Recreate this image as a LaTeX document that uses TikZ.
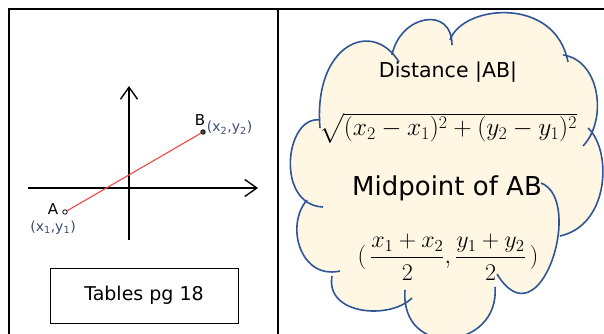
\RequirePackage{fix-cm}
\documentclass[tikz,border=0pt]{standalone}
\usepackage{amsmath}
\usepackage{fontspec}
\setmainfont{DejaVu Sans}
\usepackage{tikz}
\usetikzlibrary{arrows.meta,positioning}

\definecolor{cloudblue}{HTML}{2F5597}
\definecolor{cloudcream}{HTML}{FFF6E3}
\definecolor{coordgray}{HTML}{404C72}
\definecolor{segred}{HTML}{F04646}

% puffs of the cloud: start / control / control / end
\newcommand{\cloudpuffs}{%
  {320,128}/{313,45}/{372,18}/{399,62},
  {392,55}/{400,15}/{452,5}/{452,45},
  {450,40}/{462,5}/{555,-5}/{568,62},
  {563,55}/{600,60}/{608,120}/{583,146},
  {588,128}/{612,150}/{610,225}/{560,236},
  {541,183}/{585,200}/{540,345}/{497,274},
  {495,287}/{500,350}/{400,360}/{405,290},
  {412,298}/{390,320}/{325,315}/{332,276},
  {340,271}/{300,280}/{285,225}/{307,200},
  {323,207}/{275,205}/{285,115}/{320,120}}

\begin{document}
\begin{tikzpicture}[x=1pt, y=-1pt,
    frame/.style={draw=black, line width=2pt},
    axis/.style={-{Straight Barb[length=12pt, width=17pt]}, line width=1.4pt},
    seg/.style={draw=segred, line width=1.1pt},
    pt/.style={circle, draw=black, line width=0.8pt, inner sep=0pt, minimum size=4.5pt},
    ptname/.style={font=\fontsize{15}{17}\selectfont, inner sep=1pt},
    ptcoord/.style={font=\fontsize{14}{16}\selectfont, text=coordgray, inner sep=1pt},
    tablebox/.style={draw=black, line width=1pt, minimum width=188pt,
                     minimum height=55pt, font=\fontsize{19}{22}\selectfont},
    puff/.style={draw=cloudblue, line width=1.6pt},
    node distance=2pt
]
\useasboundingbox (0,0) rectangle (604,334);

% table frame
\draw[frame] (8,9) -- (604,9);
\draw[frame] (9,8) -- (9,334);
\draw[frame] (278,9) -- (278,334);

% axes
\coordinate (xstart) at (28,188);
\coordinate (xend) at (258,188);
\coordinate (ystart) at (129,240);
\coordinate (yend) at (129,86);
\draw[axis] (xstart) -- (xend);
\draw[axis] (ystart) -- (yend);

% the segment AB
\node[pt, fill=white] (A) at (65,212) {};
\node[pt, fill=black!70] (B) at (203,132) {};
\draw[seg] (A) -- (B);
\node[ptname, left=3pt of A, yshift=3pt] (Aname) {A};
\node[ptcoord, below=4pt of Aname] (Acoord) {(x\textsubscript{1},y\textsubscript{1})};
\node[ptname, above=3pt of B, xshift=-3pt] (Bname) {B};
\node[ptcoord, right=0pt of B, yshift=4pt] (Bcoord) {(x\textsubscript{2},y\textsubscript{2})};

\node[tablebox] (tables) at (144,295.5) {Tables pg 18};

% cloud
\fill[cloudcream] (320,124) -- (396,58) -- (452,42) -- (566,58) -- (586,137)
  -- (552,215) -- (496,283) -- (408,295) -- (336,273) -- (315,204) -- cycle;
\foreach \s/\p/\q/\e in \cloudpuffs
  \fill[cloudcream] (\s) .. controls (\p) and (\q) .. (\e) -- (448,180) -- cycle;
\foreach \s/\p/\q/\e in \cloudpuffs
  \draw[puff] (\s) .. controls (\p) and (\q) .. (\e);

\node[font=\fontsize{20.5}{24}\selectfont] (dist) at (448,72) {Distance |AB|};
\node[font=\fontsize{25.5}{30}\selectfont] (distformula) at (448,128)
  {$\sqrt{(x_2-x_1)^2+(y_2-y_1)^2}$};
\node[font=\fontsize{26}{31}\selectfont] (mid) at (447,188) {Midpoint of AB};
\node[font=\fontsize{24}{28}\selectfont] (midformula) at (448,257)
  {$(\,\dfrac{x_1+x_2}{2},\dfrac{y_1+y_2}{2}\,)$};
\end{tikzpicture}
\end{document}
